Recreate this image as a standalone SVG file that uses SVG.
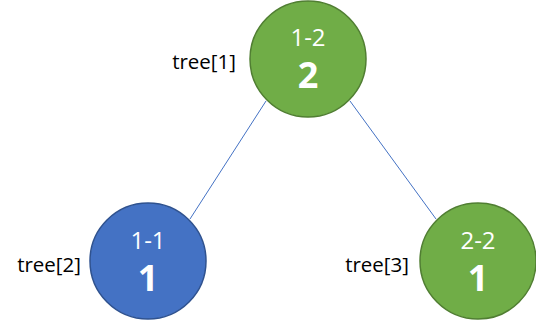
<svg xmlns="http://www.w3.org/2000/svg" width="536" height="323" viewBox="0 0 536 323">
<style>
.green{fill:#70AD47;stroke:#507E32;stroke-width:1.5}
.blue{fill:#4472C4;stroke:#2F528F;stroke-width:1.5}
.sub{font-family:"Open Sans",sans-serif;font-size:24px;fill:#fff;text-anchor:middle}
.val{font-family:"Open Sans",sans-serif;font-size:36px;font-weight:bold;fill:#fff;text-anchor:middle}
.lbl{font-family:"Open Sans",sans-serif;font-size:20.5px;fill:#000;text-anchor:end}
.edge{stroke:#4472C4;stroke-width:1;fill:none}
</style>
<rect width="536" height="323" fill="#fff"/>
<g id="connectors">
<line class="edge" x1="266" y1="101" x2="190" y2="219"/>
<line class="edge" x1="350" y1="101" x2="436" y2="219"/>
</g>
<g id="node1">
<circle class="green" cx="308" cy="59" r="58"/>
<text class="sub" x="308" y="46">1-2</text>
<text class="val" x="308" y="88">2</text>
<text class="lbl" x="236" y="69">tree[1]</text>
</g>
<g id="node2">
<circle class="blue" cx="148" cy="261" r="58"/>
<text class="sub" x="148" y="249">1-1</text>
<text class="val" x="148" y="291">1</text>
<text class="lbl" x="81" y="272">tree[2]</text>
</g>
<g id="node3">
<circle class="green" cx="478" cy="261" r="58"/>
<text class="sub" x="478" y="249">2-2</text>
<text class="val" x="478" y="291">1</text>
<text class="lbl" x="409" y="272">tree[3]</text>
</g>
</svg>
